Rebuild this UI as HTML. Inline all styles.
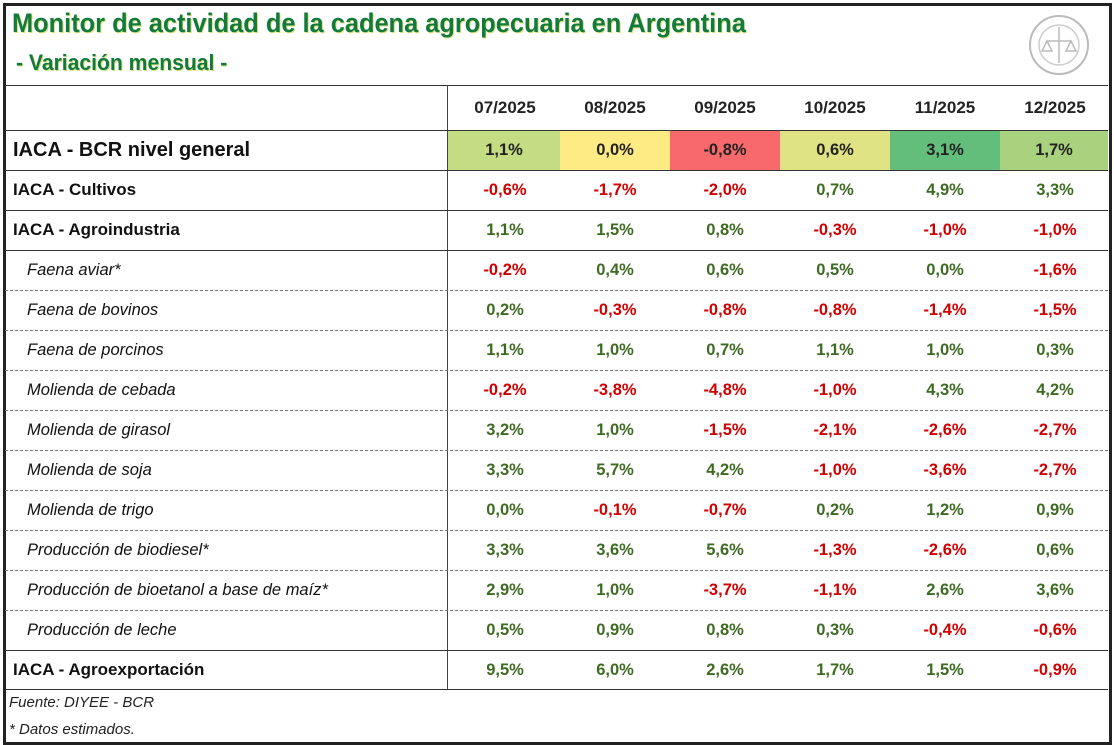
<!DOCTYPE html>
<html><head><meta charset="utf-8"><style>
body{margin:0;width:1114px;height:745px;background:#fff;position:relative;overflow:hidden;font-family:"Liberation Sans",sans-serif}
.a{position:absolute}
.t{position:absolute;white-space:nowrap}
.r{position:absolute;left:5px;width:1103px;height:40px}
.lab{position:absolute;left:8px;top:0;line-height:40px;font-size:17px;color:#111}
.it{font-style:italic;left:22px;font-size:16.5px}
.b{font-weight:bold}
.v{position:absolute;top:0;width:110px;line-height:40px;text-align:center;font-size:16.5px;font-weight:bold}
.g{color:#3e6b22}.n{color:#d00000}
.dot{position:absolute;left:5px;width:1103px;border-top:1px dashed #777;height:0}
.sol{position:absolute;left:5px;width:1103px;border-top:1.5px solid #333;height:0}
</style></head><body>
<div class="a" style="left:3px;top:3px;width:1103px;height:736px;border:3px solid #222"></div>
<div class="t b" style="left:12px;top:8px;font-size:27px;color:#127a3c;transform:scaleX(0.94);transform-origin:left;text-shadow:1px 1px 0 #d8e07a">Monitor de actividad de la cadena agropecuaria en Argentina</div>
<div class="t b" style="left:16px;top:50px;font-size:22px;color:#127a3c;transform:scaleX(0.96);transform-origin:left;text-shadow:1px 1px 0 #d8e07a">- Variación mensual -</div>
<svg class="a" style="left:1027px;top:13px" width="64" height="64"><circle cx="32" cy="32" r="29" fill="none" stroke="#bbb" stroke-width="2"/><circle cx="32" cy="32" r="20" fill="none" stroke="#ccc" stroke-width="1.5"/><path d="M32 14V50M20 28H44M20 28l-5 10h10zM44 28l-5 10h10z" stroke="#bbb" fill="none" stroke-width="1.5"/></svg>
<div class="sol" style="top:85px"></div>
<div class="a" style="left:447px;top:85px;height:604px;border-left:1.5px solid #444"></div>
<div class="r" style="top:88px"><div class="v" style="left:445px;color:#222;font-size:17px">07/2025</div><div class="v" style="left:555px;color:#222;font-size:17px">08/2025</div><div class="v" style="left:665px;color:#222;font-size:17px">09/2025</div><div class="v" style="left:775px;color:#222;font-size:17px">10/2025</div><div class="v" style="left:885px;color:#222;font-size:17px">11/2025</div><div class="v" style="left:995px;color:#222;font-size:17px">12/2025</div></div>
<div class="sol" style="top:130px"></div>
<div class="r" style="top:131px;height:39px">
<div class="lab b" style="font-size:20px;line-height:39px">IACA - BCR nivel general</div>
<div class="v" style="left:443px;width:112px;background:#c4dc82;line-height:39px;color:#222">1,1%</div>
<div class="v" style="left:555px;background:#ffeb84;line-height:39px;color:#222">0,0%</div>
<div class="v" style="left:665px;background:#f8696b;line-height:39px;color:#222">-0,8%</div>
<div class="v" style="left:775px;background:#e0e383;line-height:39px;color:#222">0,6%</div>
<div class="v" style="left:885px;background:#63be7b;line-height:39px;color:#222">3,1%</div>
<div class="v" style="left:995px;width:108px;background:#a9d27f;line-height:39px;color:#222">1,7%</div></div>
<div class="sol" style="top:170px"></div>
<div id="rows"></div>
<div class="sol" style="top:689px"></div>
<div class="t" style="left:9px;top:694px;font-size:15px;font-style:italic;color:#222">Fuente: DIYEE - BCR</div>
<div class="t" style="left:9px;top:721px;font-size:15px;font-style:italic;color:#222">* Datos estimados.</div>
<script>
var d=[["IACA - Cultivos",1,"-0,6%","-1,7%","-2,0%","0,7%","4,9%","3,3%"],
["IACA - Agroindustria",1,"1,1%","1,5%","0,8%","-0,3%","-1,0%","-1,0%"],
["Faena aviar*",0,"-0,2%","0,4%","0,6%","0,5%","0,0%","-1,6%"],
["Faena de bovinos",0,"0,2%","-0,3%","-0,8%","-0,8%","-1,4%","-1,5%"],
["Faena de porcinos",0,"1,1%","1,0%","0,7%","1,1%","1,0%","0,3%"],
["Molienda de cebada",0,"-0,2%","-3,8%","-4,8%","-1,0%","4,3%","4,2%"],
["Molienda de girasol",0,"3,2%","1,0%","-1,5%","-2,1%","-2,6%","-2,7%"],
["Molienda de soja",0,"3,3%","5,7%","4,2%","-1,0%","-3,6%","-2,7%"],
["Molienda de trigo",0,"0,0%","-0,1%","-0,7%","0,2%","1,2%","0,9%"],
["Producción de biodiesel*",0,"3,3%","3,6%","5,6%","-1,3%","-2,6%","0,6%"],
["Producción de bioetanol a base de maíz*",0,"2,9%","1,0%","-3,7%","-1,1%","2,6%","3,6%"],
["Producción de leche",0,"0,5%","0,9%","0,8%","0,3%","-0,4%","-0,6%"],
["IACA - Agroexportación",1,"9,5%","6,0%","2,6%","1,7%","1,5%","-0,9%"]];
var h="";
d.forEach(function(r,i){var y=170+i*40;
if(i>0){var s=(i==1||i==2||i==12);h+='<div class="'+(s?'sol':'dot')+'" style="top:'+y+'px"></div>';}
h+='<div class="r" style="top:'+y+'px"><div class="lab '+(r[1]?'b':'it')+'">'+r[0]+'</div>';
for(var j=0;j<6;j++){var v=r[2+j];h+='<div class="v '+(v[0]=='-'?'n':'g')+'" style="left:'+(445+j*110)+'px">'+v+'</div>';}
h+='</div>';});
document.getElementById('rows').innerHTML=h;
</script>
</body></html>
